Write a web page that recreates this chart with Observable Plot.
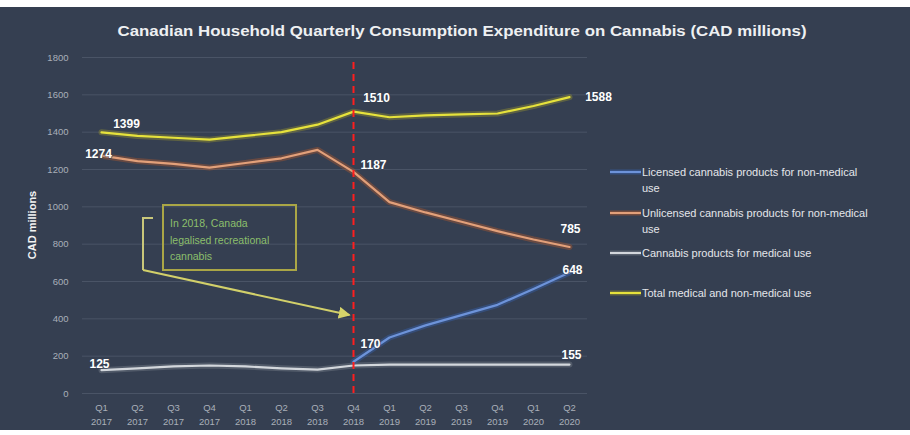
<!DOCTYPE html>
<html>
<head>
<meta charset="utf-8">
<script src="https://cdn.jsdelivr.net/npm/d3@7"></script>
<script src="https://cdn.jsdelivr.net/npm/@observablehq/plot@0.6"></script>
<style>
  html, body { margin: 0; padding: 0; background: #ffffff; }
  #chart svg { display: block; }
</style>
</head>
<body>
<div id="chart"></div>
<script>
// ---- data ----
const quarters = ["Q1 2017","Q2 2017","Q3 2017","Q4 2017","Q1 2018","Q2 2018","Q3 2018","Q4 2018","Q1 2019","Q2 2019","Q3 2019","Q4 2019","Q1 2020","Q2 2020"];
const licensed   = [null,null,null,null,null,null,null,170,300,365,420,475,560,648];
const unlicensed = [1274,1245,1230,1210,1235,1260,1305,1187,1025,970,920,870,825,785];
const medical    = [125,135,145,150,145,135,128,150,155,155,155,155,155,155];
const total      = [1399,1380,1370,1360,1380,1400,1440,1510,1480,1490,1495,1500,1540,1588];
const seriesNames = ["Licensed cannabis products for non-medical use","Unlicensed cannabis products for non-medical use","Cannabis products for medical use","Total medical and non-medical use"];
const yTicks = [0,200,400,600,800,1000,1200,1400,1600,1800];
const titleText = "Canadian Household Quarterly Consumption Expenditure on Cannabis (CAD millions)";
const yLabel = "CAD millions";
const noteLines = ["In 2018, Canada","legalised recreational","cannabis"];
const legalisationQuarter = "Q4 2018";

// ---- styling ----
const BG = "#353f51";
const core = {licensed:"#6d93d9", unlicensed:"#e2a07a", medical:"#d3d7dc", total:"#e6e23c"};
const glow = {licensed:"#3864b5", unlicensed:"#b4592c", medical:"#7d848e", total:"#9c9630"};
const seriesValues = {licensed, unlicensed, medical, total};
const rows = Object.entries(seriesValues).flatMap(([s, vals]) =>
  vals.map((v, i) => ({s, q: quarters[i], v})).filter(d => d.v != null));

// data labels: [series, index, dx, dy]
const labelSpec = [
  ["total",0,25,-8],["total",7,23,-13],["total",13,29,0],
  ["unlicensed",0,-3,-2],["unlicensed",7,20,-7],["unlicensed",13,1,-18],
  ["licensed",7,17,-18],["licensed",13,3,-2],
  ["medical",0,-2,-6],["medical",13,2,-9]
];
const labelRows = labelSpec.map(([s,i,dx,dy]) => ({s, q: quarters[i], v: seriesValues[s][i], dx, dy}));

const lineMarks = [];
for (const s of ["medical","licensed","unlicensed","total"]) {
  const data = rows.filter(d => d.s === s);
  lineMarks.push(Plot.line(data, {x:"q", y:"v", stroke: glow[s], strokeWidth: 6, strokeOpacity: 0.4, curve: "linear"}));
  lineMarks.push(Plot.line(data, {x:"q", y:"v", stroke: core[s], strokeWidth: 2.2, curve: "linear"}));
}

const textMarks = labelRows.map(d => Plot.text([d], {x:"q", y:"v", text: r => String(r.v), dx: d.dx, dy: d.dy,
  fill:"#ffffff", fontSize: 12, fontWeight: "bold", stroke: BG, strokeWidth: 2, strokeOpacity: 0.6}));

const svg = Plot.plot({
  width: 910, height: 435,
  marginLeft: 82, marginRight: 323, marginTop: 57, marginBottom: 42,
  style: {fontFamily: "'Liberation Sans', Arial, sans-serif", color: "#aab0ba",
    background: "linear-gradient(to bottom, #ffffff 0px, #ffffff 7px, " + BG + " 7px, " + BG + " 430px, #ffffff 430px)"},
  x: {type: "point", domain: quarters, range: [82, 587], padding: 0.5},
  y: {domain: [0, 1800], range: [393, 57]},
  marks: [
    Plot.gridY(yTicks, {stroke: "#4a5466", strokeOpacity: 1, strokeWidth: 1}),
    Plot.axisY(yTicks, {tickSize: 0, tickPadding: 14, fill: "#a9afb9", fontSize: 9.5, label: null, tickFormat: d => String(d)}),
    Plot.axisX(quarters, {tickSize: 0, tickPadding: 11, fill: "#a9afb9", fontSize: 9.5, label: null, tickFormat: d => d.split(" ")[0]}),
    Plot.axisX(quarters, {tickSize: 0, tickPadding: 25, fill: "#a9afb9", fontSize: 9.5, label: null, tickFormat: d => d.split(" ")[1]}),
    ...lineMarks,
    Plot.ruleX([legalisationQuarter], {y1: 0, y2: 1800, stroke: "#ff1e1e", strokeWidth: 2, strokeDasharray: "7,5"}),
    ...textMarks
  ]
});

const g = d3.select(svg).append("g").attr("font-family", "'Liberation Sans', Arial, sans-serif").attr("text-anchor", "start");
// title
g.append("text").attr("x", 462).attr("y", 35.5).attr("text-anchor", "middle")
  .attr("font-size", 15).attr("font-weight", "bold").attr("fill", "#eef0f2")
  .attr("textLength", 689).attr("lengthAdjust", "spacingAndGlyphs").text(titleText);
// y label
g.append("text").attr("transform", "translate(36,225) rotate(-90)").attr("text-anchor", "middle")
  .attr("font-size", 11).attr("font-weight", "bold").attr("fill", "#f2f2f2").text(yLabel);

// legend
const legendY = [172, 213, 253, 293];
const legendKeys = ["licensed","unlicensed","medical","total"];
const legendWrapped = [["Licensed cannabis products for non-medical", "use"], ["Unlicensed cannabis products for non-medical", "use"], [seriesNames[2]], [seriesNames[3]]];
legendKeys.forEach((k, i) => {
  const y = legendY[i];
  g.append("line").attr("x1", 610).attr("x2", 641).attr("y1", y).attr("y2", y)
    .attr("stroke", glow[k]).attr("stroke-width", 5).attr("stroke-opacity", 0.5);
  g.append("line").attr("x1", 610).attr("x2", 641).attr("y1", y).attr("y2", y)
    .attr("stroke", core[k]).attr("stroke-width", 2);
  const t = g.append("text").attr("x", 642).attr("y", y + 4).attr("font-size", 11).attr("fill", "#e4e6ea").attr("text-anchor", "start");
  legendWrapped[i].forEach((line, j) => {
    t.append("tspan").attr("x", 642).attr("dy", j === 0 ? 0 : 15.5).text(line);
  });
});

// annotation
const xScale = d3.scalePoint().domain(quarters).range([82, 587]).padding(0.5);
const ax = xScale(legalisationQuarter) - 3;
g.append("rect").attr("x", 163).attr("y", 205).attr("width", 133).attr("height", 65)
  .attr("fill", "none").attr("stroke", "#aaa646").attr("stroke-width", 2);
noteLines.forEach((line, j) => {
  g.append("text").attr("x", 170).attr("y", 227 + j * 16.5).attr("font-size", 10.5)
    .attr("fill", "#8cbf6c").attr("text-anchor", "start").text(line);
});
g.append("path").attr("d", "M153,218 H143 V270").attr("fill", "none").attr("stroke", "#c9c77a").attr("stroke-width", 2);
const defs = d3.select(svg).append("defs");
defs.append("marker").attr("id", "ah").attr("viewBox", "0 0 10 10").attr("refX", 9).attr("refY", 5)
  .attr("markerWidth", 6).attr("markerHeight", 6).attr("orient", "auto")
  .append("path").attr("d", "M0,0 L10,5 L0,10 z").attr("fill", "#d6d46a");
g.append("line").attr("x1", 143).attr("y1", 270).attr("x2", ax).attr("y2", 315)
  .attr("stroke", "#d2d06a").attr("stroke-width", 2).attr("marker-end", "url(#ah)");

document.getElementById("chart").appendChild(svg);
</script>
</body>
</html>
